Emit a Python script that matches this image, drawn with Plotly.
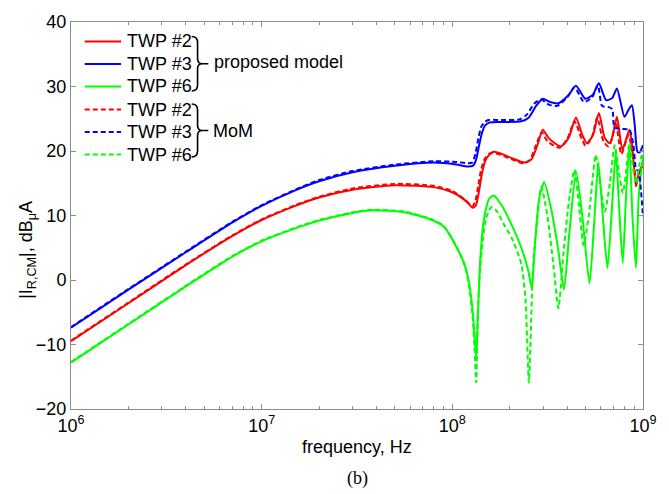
import plotly.graph_objects as go

# ---------------- data ----------------
# proposed model, TWP #2 (red solid)
f_r2 = [1e6, 2e6, 4e6, 7e6, 1e7, 1.5e7, 2e7, 3e7, 5e7, 8e7, 1.0e8, 1.15e8, 1.22e8, 1.28e8, 1.33e8, 1.38e8,
        1.43e8, 1.49e8, 1.57e8, 1.65e8, 1.8e8, 2.05e8, 2.4e8, 2.6e8, 2.8e8, 2.98e8, 3.2e8, 3.7e8,
        4.07e8, 4.45e8, 4.8e8, 5.08e8, 5.47e8, 5.87e8, 6.3e8, 6.69e8, 6.95e8, 7.3e8, 7.8e8, 8.48e8,
        8.8e8, 9.18e8, 9.5e8, 1e9]
v_r2 = [-9.5, -3.6, 2.3, 6.8, 9.3, 11.5, 12.8, 14.0, 14.7, 14.4, 13.6, 12.5, 11.8, 11.2, 11.6, 13.8,
        16.5, 18.5, 19.5, 19.9, 19.6, 18.9, 18.2, 18.7, 21.0, 23.3, 22.0, 20.7,
        22.0, 25.2, 22.5, 21.2, 22.5, 25.9, 22.0, 21.2, 22.5, 25.3, 20.2, 23.3,
        20.5, 14.5, 16.5, 18.1]

# proposed model, TWP #3 (blue solid)
f_b3 = [1e6, 2e6, 4e6, 7e6, 1e7, 1.5e7, 2e7, 3e7, 5e7, 8e7, 1.05e8, 1.2e8, 1.28e8, 1.33e8, 1.38e8, 1.43e8,
        1.49e8, 1.56e8, 1.8e8, 2.3e8, 2.52e8, 2.75e8, 2.98e8, 3.25e8, 3.6e8, 4.05e8, 4.45e8, 4.98e8,
        5.45e8, 5.87e8, 6.4e8, 6.9e8, 7.3e8, 7.99e8, 8.4e8, 8.75e8, 9.05e8, 9.35e8, 9.6e8, 1e9]
v_b3 = [-7.4, -1.5, 4.3, 8.9, 11.5, 13.9, 15.3, 16.7, 17.7, 18.2, 17.9, 17.6, 17.7, 18.6, 20.8, 22.8,
        24.0, 24.4, 24.5, 24.6, 25.2, 27.0, 28.1, 27.6, 27.4, 28.6, 30.1, 28.1,
        28.7, 30.5, 27.9, 28.2, 29.7, 25.3, 26.4, 27.1, 24.0, 19.9, 19.8, 20.9]

# proposed model, TWP #6 (green solid)
f_g6 = [1e6, 2e6, 4e6, 7e6, 1e7, 1.5e7, 2e7, 3e7, 3.8e7, 5.6e7, 7.5e7, 9e7, 1.09e8, 1.17e8, 1.225e8, 1.28e8,
        1.31e8, 1.335e8, 1.36e8, 1.4e8, 1.45e8, 1.5e8, 1.56e8, 1.65e8, 1.82e8, 2.05e8, 2.3e8, 2.5e8,
        2.61e8, 2.72e8, 2.85e8, 3.03e8, 3.3e8, 3.6e8, 3.85e8, 4.1e8, 4.46e8, 4.8e8, 5.24e8, 5.55e8,
        5.83e8, 6.15e8, 6.51e8, 6.9e8, 7.2e8, 7.5e8, 7.83e8, 8.15e8, 8.48e8, 8.8e8, 9.18e8, 9.5e8, 1e9]
v_g6 = [-12.8, -6.9, -1.0, 3.6, 6.0, 8.0, 9.2, 10.4, 10.8, 10.5, 9.5, 8.3, 4.2, 2.0, -0.5, -5.0,
        -9.0, -12.0, -6.0, 3.0, 8.5, 11.0, 12.6, 13.1, 11.5, 8.5, 5.0, 1.5,
        -1.3, 6.0, 12.5, 15.2, 11.0, 4.5, -1.5, 7.0, 16.8, 10.0, -0.5, 9.0,
        18.3, 10.0, 1.8, 12.0, 19.9, 11.0, 2.6, 13.0, 21.0, 10.0, 1.9, 13.0, 19.3]

# MoM, TWP #2 (red dashed)
f_r2m = [1e6, 2e6, 4e6, 7e6, 1e7, 1.5e7, 2e7, 3e7, 5e7, 8e7, 1.0e8, 1.15e8, 1.22e8, 1.27e8, 1.32e8, 1.37e8,
         1.42e8, 1.48e8, 1.56e8, 1.63e8, 1.8e8, 2.05e8, 2.35e8, 2.55e8, 2.75e8, 2.95e8, 3.15e8, 3.65e8,
         4.0e8, 4.37e8, 4.75e8, 5.0e8, 5.4e8, 5.75e8, 6.2e8, 6.6e8, 6.9e8, 7.2e8, 7.7e8, 8.4e8,
         8.8e8, 9.25e8, 9.6e8, 1e9]
v_r2m = [-9.4, -3.5, 2.4, 6.9, 9.4, 11.6, 12.9, 14.2, 14.9, 14.6, 13.8, 12.6, 11.9, 11.4, 12.2, 14.8,
         17.3, 18.8, 19.6, 19.7, 19.4, 18.7, 18.1, 18.6, 21.0, 22.9, 21.5, 20.5,
         21.8, 24.6, 22.0, 20.8, 22.2, 25.2, 21.5, 20.7, 22.0, 24.5, 19.5, 22.5,
         19.5, 15.5, 17.0, 17.5]

# MoM, TWP #3 (blue dashed)
f_b3m = [1e6, 2e6, 4e6, 7e6, 1e7, 1.5e7, 2e7, 3e7, 5e7, 8e7, 1.05e8, 1.2e8, 1.27e8, 1.32e8, 1.37e8, 1.42e8,
         1.48e8, 1.55e8, 1.8e8, 2.25e8, 2.45e8, 2.7e8, 2.93e8, 3.2e8, 3.55e8, 4.0e8, 4.37e8, 4.9e8,
         5.4e8, 5.8e8, 6.1e8, 6.6e8, 6.9e8, 7.1e8, 8.0e8, 8.5e8, 8.9e8, 9.2e8, 9.5e8, 9.75e8, 1e9]
v_b3m = [-7.3, -1.4, 4.4, 9.0, 11.6, 14.0, 15.5, 16.9, 17.9, 18.4, 18.3, 18.1, 18.2, 19.5, 22.0, 23.8,
         24.5, 24.8, 24.8, 24.9, 25.6, 27.4, 28.0, 27.2, 27.0, 28.3, 29.9, 27.6,
         28.3, 30.2, 27.0, 26.8, 26.5, 23.6, 23.4, 23.3, 21.0, 17.2, 16.8, 14.0, 9.8]

# MoM, TWP #6 (green dashed)
f_g6m = [1e6, 2e6, 4e6, 7e6, 1e7, 1.5e7, 2e7, 3e7, 3.8e7, 5.6e7, 7.5e7, 9e7, 1.09e8, 1.17e8, 1.225e8, 1.28e8,
         1.31e8, 1.335e8, 1.36e8, 1.4e8, 1.45e8, 1.5e8, 1.6e8, 1.7e8, 1.85e8, 2.05e8, 2.3e8, 2.42e8,
         2.52e8, 2.65e8, 2.8e8, 2.93e8, 3.15e8, 3.4e8, 3.6e8, 3.85e8, 4.1e8, 4.37e8, 4.6e8, 4.88e8,
         5.2e8, 5.65e8, 5.95e8, 6.31e8, 6.7e8, 7.1e8, 7.45e8, 7.83e8, 8.1e8, 8.48e8, 8.8e8, 9.2e8,
         9.6e8, 1e9]
v_g6m = [-12.7, -6.8, -0.9, 3.7, 6.1, 8.1, 9.3, 10.5, 10.9, 10.6, 9.6, 8.4, 4.3, 2.0, -1.0, -6.0,
         -11.0, -15.9, -5.0, 2.0, 6.5, 9.5, 11.3, 10.8, 8.8, 6.5, 2.5, -3.0,
         -15.9, 2.0, 10.0, 14.5, 10.0, 2.0, -4.4, 5.0, 12.5, 17.1, 12.0, 5.4,
         10.0, 19.4, 15.0, 10.6, 15.0, 20.9, 17.0, 13.5, 16.0, 21.2, 18.0, 15.0,
         18.0, 20.1]

legend_labels = ["TWP #2", "TWP #3", "TWP #6"]
group_labels = ["proposed model", "MoM"]
x_tickvals = [1e6, 1e7, 1e8, 1e9]
x_ticktext = ["10<sup>6</sup>", "10<sup>7</sup>", "10<sup>8</sup>", "10<sup>9</sup>"]
y_tickvals = [-20, -10, 0, 10, 20, 30, 40]

# ---------------- styling ----------------
RED, BLUE, GREEN = "#FF0000", "#0000FF", "#00FF00"
W, H = 669, 494
L, R, T, B = 71, 15, 22, 85
PW, PH = W - L - R, H - T - B
FONT = "Liberation Sans, Arial, sans-serif"
AXC = "#8c8c8c"


def px(xp):
    return (xp - L) / PW


def py(yp):
    return (T + PH - yp) / PH


fig = go.Figure()
series = [
    (f_r2, v_r2, RED, "solid"), (f_b3, v_b3, BLUE, "solid"), (f_g6, v_g6, GREEN, "solid"),
    (f_r2m, v_r2m, RED, "5px,3px"), (f_b3m, v_b3m, BLUE, "5px,3px"), (f_g6m, v_g6m, GREEN, "5px,3px"),
]
for fx, vy, col, dash in series:
    fig.add_trace(go.Scatter(x=fx, y=vy, mode="lines", showlegend=False,
                             line=dict(color=col, width=2, dash=dash, shape="spline", smoothing=0.6)))

minor_vals = [m * 10 ** e for e in (6, 7, 8) for m in range(2, 10)]

fig.update_layout(
    width=W, height=H, margin=dict(l=L, r=R, t=T, b=B),
    paper_bgcolor="white", plot_bgcolor="white",
    font=dict(family=FONT, size=18, color="black"),
    xaxis=dict(type="log", range=[6, 9], tickvals=x_tickvals, ticktext=x_ticktext,
               ticks="inside", ticklen=5, tickcolor=AXC, showline=True, linecolor=AXC, linewidth=1,
               mirror="ticks", showgrid=False, zeroline=False,
               minor=dict(tickvals=minor_vals, ticks="inside", ticklen=3, tickcolor=AXC, showgrid=False),
               tickfont=dict(size=18)),
    yaxis=dict(range=[-20, 40], tickvals=y_tickvals, ticks="inside", ticklen=5, tickcolor=AXC,
               showline=True, linecolor=AXC, linewidth=1, mirror="ticks", showgrid=False,
               zeroline=False, tickfont=dict(size=18)),
)

annotations = []
shapes = []

# axis titles and caption
annotations.append(dict(text="|I<sub>R,CM</sub>|, dB<sub>μ</sub>A", x=px(27), y=py(250),
                        xref="paper", yref="paper", showarrow=False, textangle=-90,
                        font=dict(size=18, family=FONT), xanchor="center", yanchor="middle"))
annotations.append(dict(text="frequency, Hz", x=0.5, y=py(447), xref="paper", yref="paper",
                        showarrow=False, font=dict(size=18, family=FONT),
                        xanchor="center", yanchor="middle"))
annotations.append(dict(text="(b)", x=0.5, y=py(478), xref="paper", yref="paper",
                        showarrow=False, font=dict(size=18, family="Liberation Serif, Times New Roman, serif"),
                        xanchor="center", yanchor="middle"))

# manual legend
rows = [41.5, 64, 86.5, 109.5, 132, 154.5]
cols = [RED, BLUE, GREEN, RED, BLUE, GREEN]
for i, yr in enumerate(rows):
    shapes.append(dict(type="line", xref="paper", yref="paper", x0=px(85), x1=px(122),
                       y0=py(yr), y1=py(yr),
                       line=dict(color=cols[i], width=2, dash="solid" if i < 3 else "5px,3px")))
    annotations.append(dict(text=legend_labels[i % 3], x=px(126), y=py(yr), xref="paper", yref="paper",
                            showarrow=False, xanchor="left", yanchor="middle",
                            font=dict(size=18, family=FONT)))


def bracket(top, bot):
    mid = (top + bot) / 2
    pts = (f"M {px(194)},{py(top)} Q {px(200)},{py(top)} {px(200)},{py(top + 6)} "
           f"L {px(200)},{py(mid - 5)} Q {px(200)},{py(mid)} {px(205)},{py(mid)} "
           f"Q {px(200)},{py(mid)} {px(200)},{py(mid + 5)} "
           f"L {px(200)},{py(bot - 6)} Q {px(200)},{py(bot)} {px(194)},{py(bot)} "
           f"M {px(205)},{py(mid)} L {px(211)},{py(mid)}")
    return dict(type="path", xref="paper", yref="paper", path=pts, line=dict(color="black", width=1.6))


shapes.append(bracket(36.5, 91))
shapes.append(bracket(104, 157))
annotations.append(dict(text=group_labels[0], x=px(215), y=py(62.5), xref="paper", yref="paper",
                        showarrow=False, xanchor="left", yanchor="middle", font=dict(size=18, family=FONT)))
annotations.append(dict(text=group_labels[1], x=px(214), y=py(131), xref="paper", yref="paper",
                        showarrow=False, xanchor="left", yanchor="middle", font=dict(size=18, family=FONT)))

fig.update_layout(annotations=annotations, shapes=shapes)
fig.write_html("out.html")
